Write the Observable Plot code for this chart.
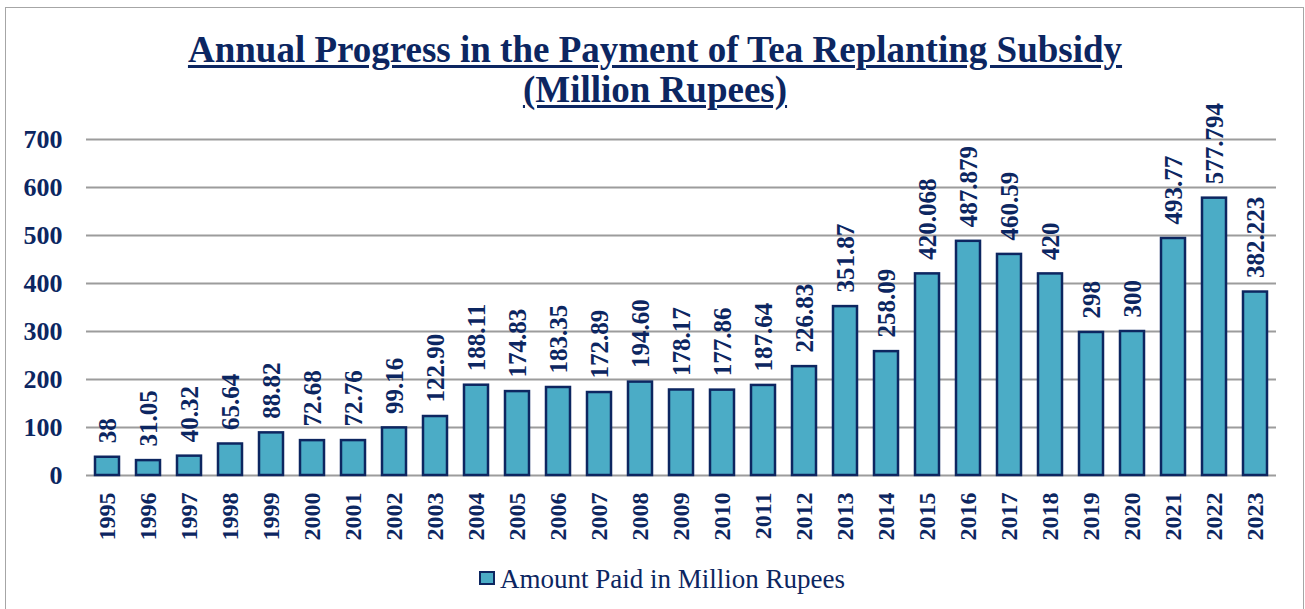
<!DOCTYPE html>
<html>
<head>
<meta charset="utf-8">
<script src="https://cdn.jsdelivr.net/npm/d3@7"></script>
<script src="https://cdn.jsdelivr.net/npm/@observablehq/plot@0.6"></script>
<style>
  html, body { margin: 0; padding: 0; background: #fff; overflow: hidden; width: 1305px; height: 609px; }
  #frame { position: absolute; left: 5px; top: 7px; width: 1299px; height: 620px; border: 1px solid #a6a6a6; box-sizing: border-box; }
  #title { position: absolute; left: 0; top: 30px; width: 1310px; text-align: center;
           font-family: "Liberation Serif", "Times New Roman", serif; font-weight: bold; font-size: 37px;
           line-height: 40px; color: #0c2661; }
  #title span { text-decoration: underline; text-decoration-thickness: 3px; text-underline-offset: 3px; }
  #chart { position: absolute; left: 0; top: 110px; }
  #chart svg { font-family: "Liberation Serif", "Times New Roman", serif; overflow: visible; }
  #legend { position: absolute; left: 479px; top: 561px; display: flex; align-items: center; line-height: 36px;
            font-family: "Liberation Serif", "Times New Roman", serif; font-size: 27px; color: #0c2661; }
  #legend .sw { width: 16px; height: 14px; background: #4bacc6; border: 2px solid #0d2660; box-sizing: border-box; margin-right: 5px; margin-top: -2px; }
</style>
</head>
<body>
<div id="frame"></div>
<div id="title"><span>Annual Progress in the Payment of Tea Replanting Subsidy</span><br><span>(Million Rupees)</span></div>
<div id="chart"></div>
<div id="legend"><div class="sw"></div><div>Amount Paid in Million Rupees</div></div>
<script>
const years = ["1995","1996","1997","1998","1999","2000","2001","2002","2003","2004","2005","2006","2007","2008","2009","2010","2011","2012","2013","2014","2015","2016","2017","2018","2019","2020","2021","2022","2023"];
const amounts = [38, 31.05, 40.32, 65.64, 88.82, 72.68, 72.76, 99.16, 122.90, 188.11, 174.83, 183.35, 172.89, 194.60, 178.17, 177.86, 187.64, 226.83, 351.87, 258.09, 420.068, 487.879, 460.59, 420, 298, 300, 493.77, 577.794, 382.223];
const valueLabels = ["38","31.05","40.32","65.64","88.82","72.68","72.76","99.16","122.90","188.11","174.83","183.35","172.89","194.60","178.17","177.86","187.64","226.83","351.87","258.09","420.068","487.879","460.59","420","298","300","493.77","577.794","382.223"];
const yTicks = [0, 100, 200, 300, 400, 500, 600, 700];

const data = years.map((y, i) => ({year: y, value: amounts[i], label: valueLabels[i]}));
const navy = "#0c2661";

const chart = Plot.plot({
  width: 1305,
  height: 440,
  marginLeft: 86,
  marginRight: 29,
  marginTop: 29,
  marginBottom: 75,
  x: {domain: years, paddingInner: 0.415, paddingOuter: 0.2075},
  y: {domain: [0, 700]},
  marks: [
    Plot.ruleY(yTicks, {stroke: "#9c9c9c", strokeWidth: 2}),
    Plot.barY(data, {x: "year", y: "value", fill: "#4bacc6", stroke: "#0d2660", strokeWidth: 2.5}),
    Plot.text(data, {x: "year", y: "value", text: "label", rotate: -90, textAnchor: "start", lineAnchor: "middle",
      dy: -14, fill: navy, fontSize: 25, fontWeight: "bold"}),
    Plot.axisY({ticks: yTicks, tickSize: 0, tickPadding: 24, fontSize: 26, fontWeight: "bold", fill: navy, label: null}),
    Plot.axisX({tickSize: 0, tickPadding: 17, tickRotate: -90, fontSize: 24, fontWeight: "bold", fill: navy, label: null})
  ]
});
document.getElementById("chart").appendChild(chart);
</script>
</body>
</html>
